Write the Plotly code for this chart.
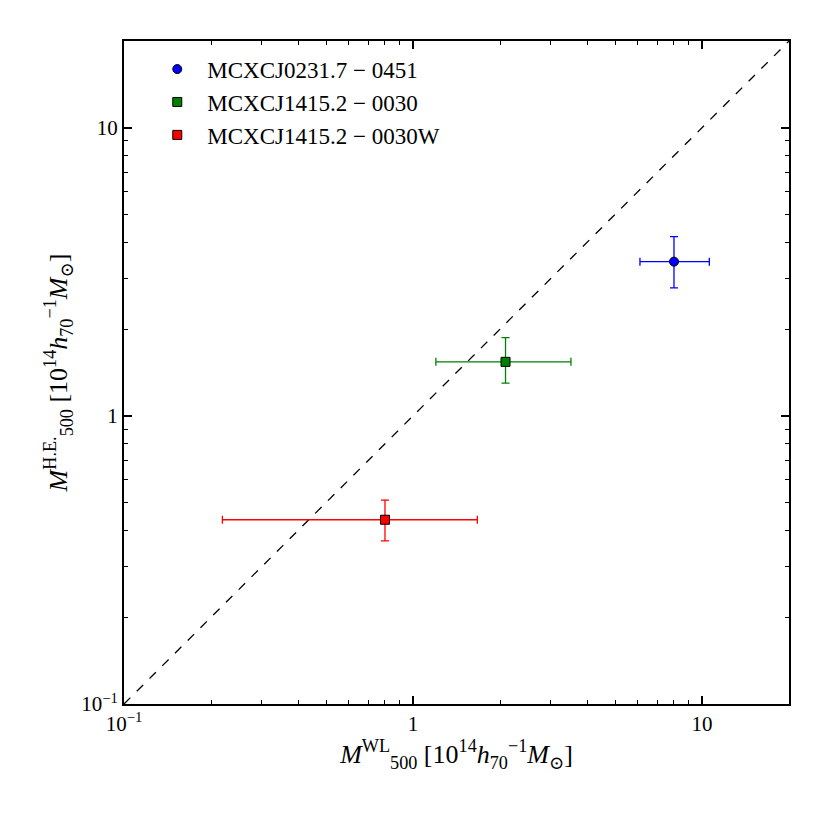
import plotly.graph_objects as go

names = ["MCXCJ0231.7 − 0451", "MCXCJ1415.2 − 0030", "MCXCJ1415.2 − 0030W"]
x_wl = [8.0, 2.09, 0.80]
x_lo = [6.1, 1.20, 0.219]
x_hi = [10.6, 3.52, 1.67]
y_he = [3.43, 1.54, 0.436]
y_lo = [2.78, 1.30, 0.368]
y_hi = [4.19, 1.87, 0.51]
colors = ["blue", "green", "red"]
symbols = ["circle", "square", "square"]
diag = [0.1, 20]

major_vals = [0.1, 1, 10]
major_text = ["10<sup>−1</sup>", "1", "10"]
minor_vals = [v * m for v in [0.1, 1, 10] for m in range(2, 10) if v * m <= 20]

font_family = "Liberation Serif, DejaVu Serif, serif"

fig = go.Figure()
fig.add_trace(go.Scatter(x=diag, y=diag, mode="lines",
                         line=dict(color="black", dash="dash", width=1.3),
                         showlegend=False, hoverinfo="skip"))
for i in range(3):
    fig.add_trace(go.Scatter(
        x=[x_wl[i]], y=[y_he[i]], mode="markers", name=names[i],
        marker=dict(color=colors[i], symbol=symbols[i], size=9,
                    line=dict(color="black", width=1)),
        error_x=dict(type="data", symmetric=False,
                     array=[x_hi[i] - x_wl[i]], arrayminus=[x_wl[i] - x_lo[i]],
                     color=colors[i], thickness=1.3, width=4),
        error_y=dict(type="data", symmetric=False,
                     array=[y_hi[i] - y_he[i]], arrayminus=[y_he[i] - y_lo[i]],
                     color=colors[i], thickness=1.3, width=4),
    ))

axis_common = dict(
    type="log", range=[-1, 1.30103], showgrid=False, zeroline=False,
    showline=True, linecolor="black", linewidth=2, mirror="allticks",
    ticks="inside", ticklen=8, tickwidth=1.5, tickcolor="black",
    tickmode="array", tickvals=major_vals, ticktext=major_text,
    tickfont=dict(family=font_family, size=21, color="black"),
    minor=dict(ticks="inside", ticklen=4, tickwidth=1, tickcolor="black",
               tickmode="array", tickvals=minor_vals, showgrid=False),
)

fig.update_xaxes(**axis_common,
                 title=dict(text="<i>M</i><sup>WL</sup><sub>500</sub> [10<sup>14</sup><i>h</i><sub>70</sub><sup>−1</sup><i>M</i><sub>⊙</sub>]",
                            font=dict(family=font_family, size=26, color="black"),
                            standoff=0))
fig.update_yaxes(**axis_common,
                 title=dict(text="<i>M</i><sup>H.E.</sup><sub>500</sub> [10<sup>14</sup><i>h</i><sub>70</sub><sup>−1</sup><i>M</i><sub>⊙</sub>]",
                            font=dict(family=font_family, size=26, color="black"),
                            standoff=6))

fig.update_layout(
    width=830, height=830,
    margin=dict(l=116, r=49, t=33, b=134),
    plot_bgcolor="white", paper_bgcolor="white",
    font=dict(family=font_family, color="black"),
    legend=dict(x=0.035, y=0.99, xanchor="left", yanchor="top",
                bgcolor="rgba(0,0,0,0)", borderwidth=0, itemwidth=50,
                tracegroupgap=0,
                font=dict(family=font_family, size=23, color="black")),
)

fig.write_html("out.html")
